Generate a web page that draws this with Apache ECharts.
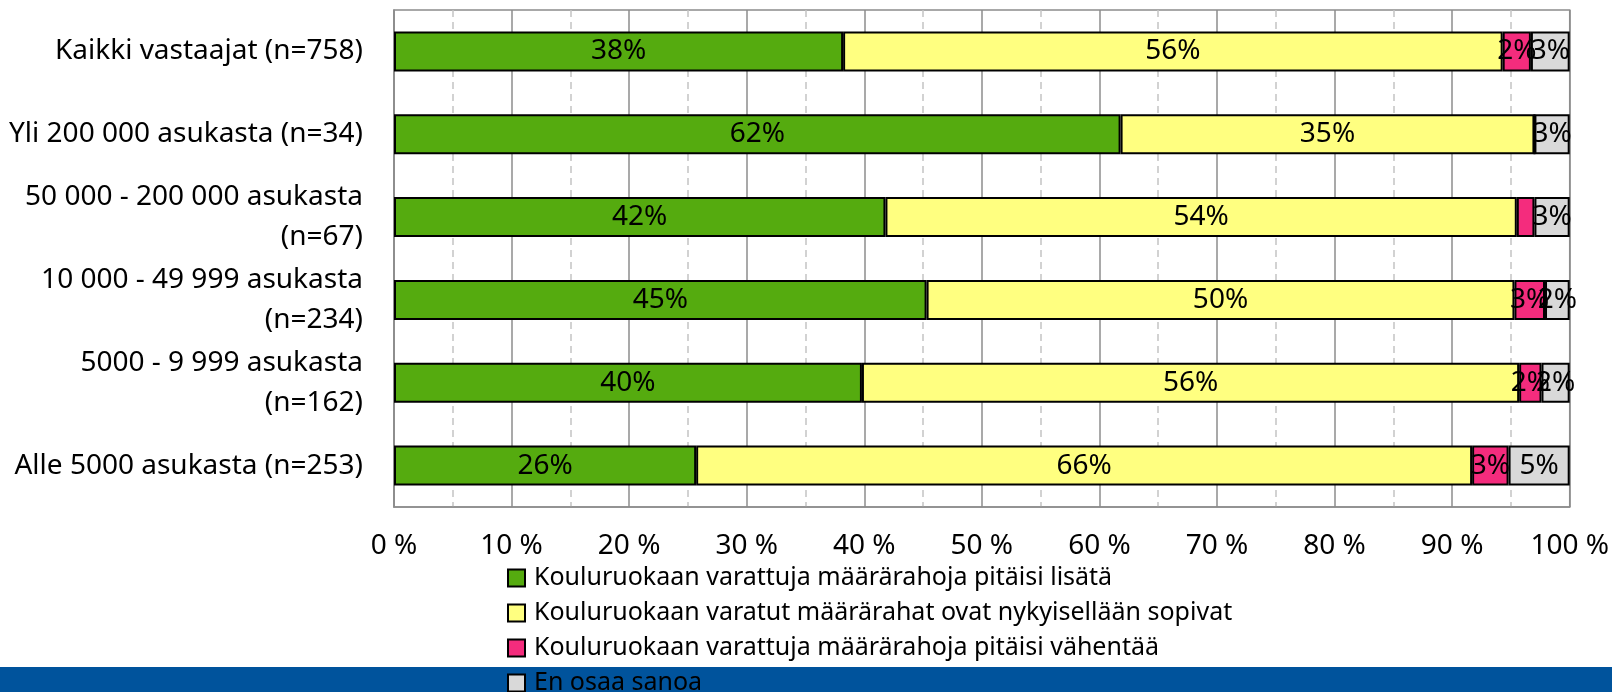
<!DOCTYPE html>
<html>
<head>
<meta charset="utf-8">
<script src="https://cdn.jsdelivr.net/npm/echarts@6/dist/echarts.min.js"></script>
<style>
  html, body { margin: 0; padding: 0; background: #fff; }
  #chart { width: 1612px; height: 692px; }
</style>
</head>
<body>
<div id="chart"></div>
<script>
// kategoriat ylhäältä alas
const categories = [
  'Kaikki vastaajat (n=758)',
  'Yli 200 000 asukasta (n=34)',
  '50 000 - 200 000 asukasta\n(n=67)',
  '10 000 - 49 999 asukasta\n(n=234)',
  '5000 - 9 999 asukasta\n(n=162)',
  'Alle 5000 asukasta (n=253)'
];
const seriesNames = [
  'Kouluruokaan varattuja määrärahoja pitäisi lisätä',
  'Kouluruokaan varatut määrärahat ovat nykyisellään sopivat',
  'Kouluruokaan varattuja määrärahoja pitäisi vähentää',
  'En osaa sanoa'
];
// prosentit (luettu kuvasta)
const lisata = [38.2, 61.8, 41.8, 45.3, 39.8, 25.7];
const sopivat = [56.1, 35.2, 53.7, 50.0, 55.9, 66.0];
const vahentaa = [2.4, 0, 1.5, 2.6, 1.9, 3.1];
const eos = [3.3, 3.0, 3.0, 2.1, 2.4, 5.2];
// näytetäänkö arvo palkissa (vähentää-sarja)
const vahentaaLabel = [true, false, false, true, true, true];
const xTicks = [0, 10, 20, 30, 40, 50, 60, 70, 80, 90, 100];

const colors = ['#55AB0F', '#FFFF80', '#F42C7D', '#D9D9D9'];
const FONT = 'Noto Sans';

const myChart = echarts.init(document.getElementById('chart'));

function makeSeries(name, values, color, showList) {
  return {
    name: name,
    type: 'bar',
    stack: 'total',
    barWidth: 40,
    itemStyle: { color: color, borderColor: '#000', borderWidth: 2 },
    label: {
      show: true,
      position: 'inside',
      color: '#000',
      fontFamily: FONT,
      fontSize: 28,
      formatter: function (p) {
        if (!p.value) return '';
        if (showList && !showList[p.dataIndex]) return '';
        return Math.round(p.value) + '%';
      }
    },
    labelLayout: { hideOverlap: false },
    data: values
  };
}

const option = {
  backgroundColor: '#fff',
  animation: false,
  graphic: [
    {
      type: 'rect',
      z: 0,
      shape: { x: 0, y: 667, width: 1612, height: 25 },
      style: { fill: '#00539C' },
      silent: true
    }
  ],
  legend: {
    orient: 'vertical',
    left: 507,
    top: 564,
    height: 200,
    padding: 0,
    z: 10,
    icon: 'rect',
    itemWidth: 17,
    itemHeight: 17,
    itemGap: 7,
    textStyle: { fontFamily: FONT, fontSize: 25, color: '#000', lineHeight: 28, padding: [0, 0, 0, 4] },
    data: seriesNames
  },
  grid: {
    left: 394,
    right: 42,
    top: 10,
    bottom: 185,
    show: true,
    borderColor: '#8C8C8C',
    borderWidth: 1.5
  },
  xAxis: {
    type: 'value',
    min: 0,
    max: 100,
    interval: 10,
    axisLine: { show: true, lineStyle: { color: '#8C8C8C', width: 1.5 } },
    axisTick: { show: false },
    minorTick: { show: false, splitNumber: 2 },
    splitLine: { show: true, lineStyle: { color: '#8C8C8C', width: 1.5 } },
    minorSplitLine: { show: true, lineStyle: { color: '#C4C4C4', width: 1.5, type: [7, 5] } },
    axisLabel: {
      margin: 25,
      color: '#000',
      fontFamily: FONT,
      fontSize: 28,
      formatter: function (v) { return xTicks.indexOf(v) >= 0 ? v + ' %' : ''; }
    }
  },
  yAxis: {
    type: 'category',
    inverse: true,
    data: categories,
    axisLine: { show: true, lineStyle: { color: '#8C8C8C', width: 1.5 } },
    axisTick: { show: false },
    axisLabel: {
      margin: 31,
      color: '#000',
      fontFamily: FONT,
      fontSize: 28,
      lineHeight: 40,
      align: 'right'
    }
  },
  series: [
    makeSeries(seriesNames[0], lisata, colors[0]),
    makeSeries(seriesNames[1], sopivat, colors[1]),
    makeSeries(seriesNames[2], vahentaa, colors[2], vahentaaLabel),
    makeSeries(seriesNames[3], eos, colors[3])
  ]
};

option && myChart.setOption(option);
</script>
</body>
</html>
